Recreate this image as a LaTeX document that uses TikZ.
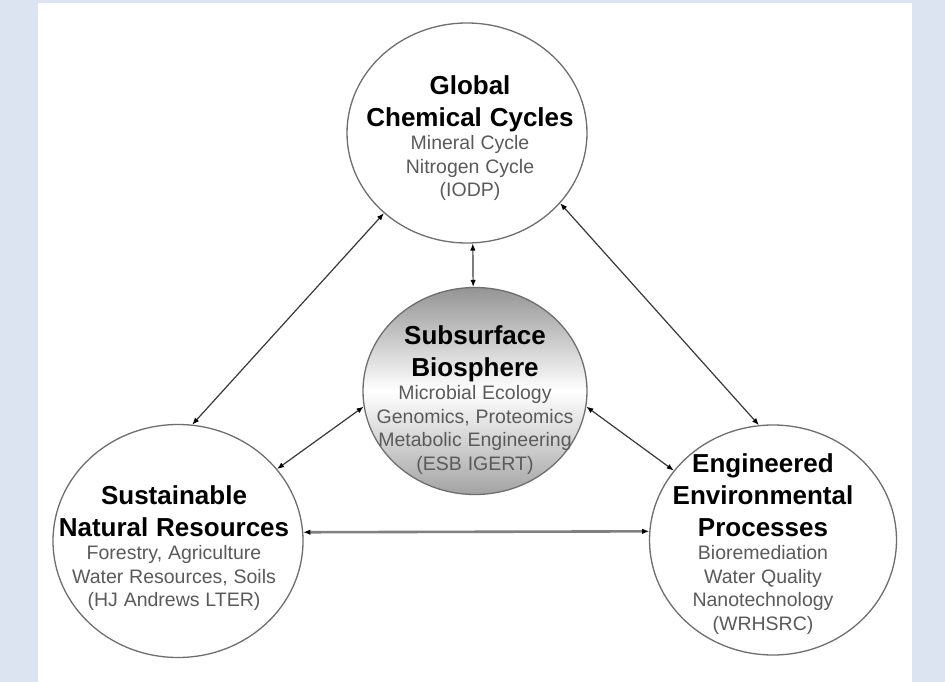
\documentclass[tikz,border=0pt]{standalone}
\usepackage{fontspec}
\setmainfont{Liberation Sans}
\usetikzlibrary{shapes.geometric,arrows.meta}

\definecolor{pagebg}{HTML}{DCE3F1}
\definecolor{rimgray}{HTML}{6E6E6E}
\definecolor{subgray}{HTML}{5A5A5A}

% heading lines and the smaller lines listed under them
\newcommand{\headfont}{\fontsize{26}{32}\selectfont\bfseries\color{black}\spaceskip=0.3em}
\newcommand{\itemfont}{\normalfont\fontsize{19.5}{23.5}\selectfont\color{subgray}\spaceskip=0.3em}

\tikzset{
  sphere/.style={ellipse, draw=rimgray, line width=1.3pt, fill=white, inner sep=0pt},
  hubsphere/.style={sphere, top color=black!42, bottom color=black!36, middle color=white},
  spheretext/.style={text width=280pt, align=center, inner sep=0pt},
  link/.style={draw=black!78, line width=1.2pt,
    {Latex[length=7pt,width=5.5pt,color=black]}-{Latex[length=7pt,width=5.5pt,color=black]}},
  widelink/.style={link, draw=black!50, line width=2.6pt}
}

\begin{document}
\begin{tikzpicture}[x=1pt,y=-1pt]
\fill[pagebg] (0,0) rectangle (945,682);
\fill[white] (38,3) rectangle (912,682);

% the four spheres
\node[sphere, minimum width=240pt, minimum height=220pt] (cycles) at (467,133) {};
\node[hubsphere, minimum width=224pt, minimum height=207pt] (biosphere) at (475,391) {};
\node[sphere, minimum width=250pt, minimum height=233pt] (resources) at (178,541) {};
\node[sphere, minimum width=247pt, minimum height=230pt] (processes) at (773,540) {};

\node[spheretext] (cyclestxt) at (470,138) {\headfont Global\\Chemical Cycles\par
  \itemfont Mineral Cycle\\Nitrogen Cycle\\(IODP)\par};
\node[spheretext] (biospheretxt) at (475,400) {\headfont Subsurface\\Biosphere\par
  \itemfont Microbial Ecology\\Genomics, Proteomics\\Metabolic Engineering\\(ESB IGERT)\par};
\node[spheretext] (resourcestxt) at (174,548) {\headfont Sustainable\\Natural Resources\par
  \itemfont Forestry, Agriculture\\Water Resources, Soils\\(HJ Andrews LTER)\par};
\node[spheretext] (processestxt) at (763,544) {\headfont Engineered\\Environmental\\Processes\par
  \itemfont Bioremediation\\Water Quality\\Nanotechnology\\(WRHSRC)\par};

% two-way links
\draw[link] (cycles.224) -- (resources.83);
\draw[link] (cycles.323) -- (processes.97);
\draw[link] (cycles.273) -- (biosphere.91);
\draw[link] (biosphere.188) -- (resources.36);
\draw[link] (biosphere.352) -- (processes.145);
\draw[widelink] (resources.4) -- (processes.176);
\end{tikzpicture}
\end{document}
